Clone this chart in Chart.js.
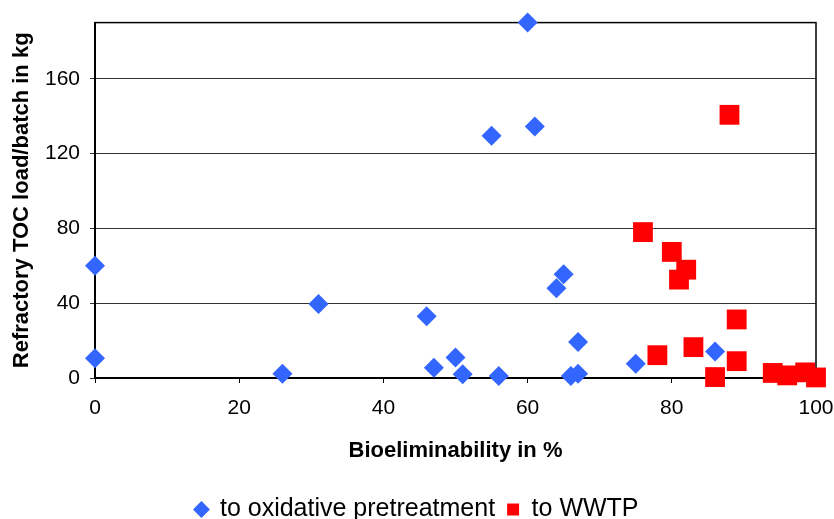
<!DOCTYPE html>
<html>
<head>
<meta charset="utf-8">
<script src="https://cdn.jsdelivr.net/npm/chart.js@4.4.1/dist/chart.umd.min.js"></script>
<style>
    html, body { margin: 0; padding: 0; background: #ffffff; }
    #wrap { width: 834px; height: 519px; }
</style>
</head>
<body>
<div id="wrap"><canvas id="chart" width="834" height="519"></canvas></div>
<script>
// values
const oxidativeX = [0, 0, 26, 31, 46, 47, 50, 51, 55, 56, 60, 61, 64, 65, 66, 67, 67, 75, 86];
const oxidativeY = [60, 10.5, 2.3, 39.5, 33, 5.5, 11, 2, 129.5, 1.1, 190, 134.5, 48, 55.5, 1.1, 19.3, 2.3, 7.6, 14.2];
const wwtpX = [76, 78, 80, 81, 82, 83, 86, 88, 89, 89, 94, 96, 98.5, 100];
const wwtpY = [78, 12.2, 67.4, 52.6, 57.9, 16.5, 0.5, 140.7, 31.3, 9, 2.7, 1.4, 3, 0.3];
const seriesNames = ["to oxidative pretreatment", "to WWTP"];
const xTitle = "Bioeliminability in %";
const yTitle = "Refractory TOC load/batch in kg";

function toPoints(xs, ys) {
    return xs.map((x, i) => ({ x: x, y: ys[i] }));
}

// black frame round the plot area, drawn under the markers
const plotFrame = {
    id: "plotFrame",
    beforeDatasetsDraw(chart) {
        const { ctx, chartArea } = chart;
        ctx.save();
        ctx.strokeStyle = "#000000";
        ctx.lineWidth = 1.5;
        ctx.strokeRect(chartArea.left, chartArea.top, chartArea.right - chartArea.left, chartArea.bottom - chartArea.top);
        ctx.restore();
    }
};

const fontFamily = "'Liberation Sans', Arial, sans-serif";

new Chart(document.getElementById("chart"), {
    type: "scatter",
    data: {
        datasets: [{
            label: seriesNames[0],
            data: toPoints(oxidativeX, oxidativeY),
            pointStyle: "rectRot",
            pointRadius: 10,
            pointBorderWidth: 0,
            backgroundColor: "#3366ff",
            borderColor: "#3366ff",
            clip: false
        }, {
            label: seriesNames[1],
            data: toPoints(wwtpX, wwtpY),
            pointStyle: "rect",
            pointRadius: 14,
            pointBorderWidth: 0,
            backgroundColor: "#ff0000",
            borderColor: "#ff0000",
            clip: false
        }]
    },
    options: {
        responsive: false,
        animation: false,
        layout: {
            autoPadding: false,
            padding: { top: 19, right: 0, left: 0, bottom: -13 }
        },
        plugins: {
            tooltip: { enabled: false },
            legend: {
                position: "bottom",
                labels: {
                    usePointStyle: true,
                    boxWidth: 12,
                    boxHeight: 12,
                    padding: 12,
                    color: "#000000",
                    font: { family: fontFamily, size: 25 }
                }
            }
        },
        scales: {
            x: {
                type: "linear",
                min: 0,
                max: 100,
                afterFit(scale) {
                    scale.height = 107;
                    // the plot runs almost to the right edge
                    scale.paddingRight = 18;
                },
                ticks: {
                    stepSize: 20,
                    padding: 13,
                    color: "#000000",
                    font: { family: fontFamily, size: 21 }
                },
                grid: {
                    drawOnChartArea: false,
                    drawTicks: true,
                    tickLength: 5,
                    color: "#000000"
                },
                border: { display: true, color: "#000000", width: 2 },
                title: {
                    display: true,
                    text: xTitle,
                    color: "#000000",
                    padding: { top: 10, bottom: 21 },
                    font: { family: fontFamily, size: 22, weight: "bold" }
                }
            },
            y: {
                type: "linear",
                min: 0,
                max: 190,
                afterFit(scale) {
                    scale.width = 95;
                },
                ticks: {
                    stepSize: 40,
                    includeBounds: false,
                    padding: 10,
                    color: "#000000",
                    font: { family: fontFamily, size: 21 }
                },
                grid: {
                    drawTicks: true,
                    tickLength: 5,
                    color: "#333333",
                    lineWidth: 1
                },
                border: { display: true, color: "#000000", width: 2 },
                title: {
                    display: true,
                    text: yTitle,
                    color: "#000000",
                    padding: { top: 9, bottom: 0 },
                    font: { family: fontFamily, size: 22, weight: "bold" }
                }
            }
        }
    },
    plugins: [plotFrame]
});
</script>
</body>
</html>
